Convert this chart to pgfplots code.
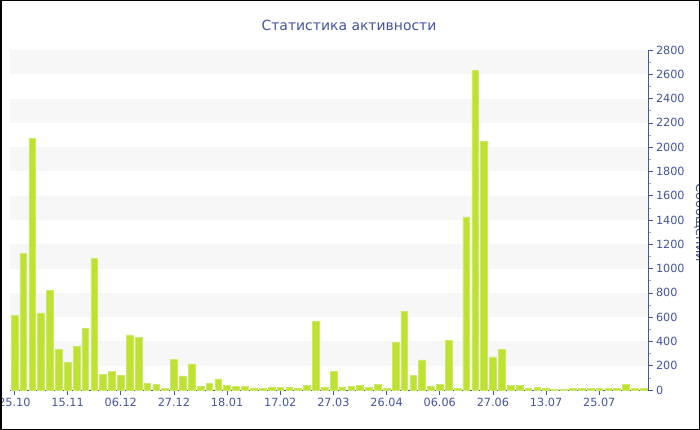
\documentclass[border=0pt]{standalone}
\usepackage{fontspec}
\setmainfont{DejaVu Sans}
\usepackage{pgfplots}
\pgfplotsset{compat=1.18}
\definecolor{barc}{RGB}{189,226,50}
\definecolor{axc}{RGB}{68,84,160}
\definecolor{band}{RGB}{247,247,247}
\begin{document}
\begin{tikzpicture}
\useasboundingbox (0,0) rectangle (700bp,430bp);
\fill[white] (0,0) rectangle (700bp,430bp);
\begin{scope}
\clip (0,0) rectangle (700bp,430bp);
\begin{axis}[
  at={(10bp,40bp)}, anchor=south west,
  scale only axis, width=638bp, height=340bp,
  xmin=-0.5, xmax=71.5, ymin=0, ymax=2800,
  axis x line*=bottom, axis y line*=right,
  axis line style={draw=axc, line width=0.8bp, -},
  ybar, bar width=0.76,
  xtick={0,6,...,66},
  xticklabels={25.10,15.11,06.12,27.12,18.01,17.02,27.03,26.04,06.06,27.06,13.07,25.07},
  ytick={0,200,...,2800},
  minor y tick num=1,
  tick align=outside,
  major tick length=5bp, minor tick length=3bp,
  tick style={draw=axc, line width=0.6bp},
  minor tick style={draw=gray!70, line width=0.6bp},
  /pgf/number format/assume math mode=true,
  /pgf/number format/1000 sep={},
  yticklabel style={font=\fontsize{11.3}{13}\selectfont, text=axc, xshift=-0.5bp},
  xticklabel style={font=\fontsize{11.3}{13}\selectfont, text=axc},
]
\fill[band] (axis cs:-0.5,200) rectangle (axis cs:71.5,400);
\fill[band] (axis cs:-0.5,600) rectangle (axis cs:71.5,800);
\fill[band] (axis cs:-0.5,1000) rectangle (axis cs:71.5,1200);
\fill[band] (axis cs:-0.5,1400) rectangle (axis cs:71.5,1600);
\fill[band] (axis cs:-0.5,1800) rectangle (axis cs:71.5,2000);
\fill[band] (axis cs:-0.5,2200) rectangle (axis cs:71.5,2400);
\fill[band] (axis cs:-0.5,2600) rectangle (axis cs:71.5,2800);
\addplot[fill=barc, draw=barc!75!white, line width=0.5bp] coordinates {
(0,615) (1,1127) (2,2075) (3,635) (4,822) (5,335) (6,230) (7,358) (8,508) (9,1084)
(10,129) (11,152) (12,120) (13,453) (14,435) (15,57) (16,48) (17,12) (18,253) (19,117)
(20,215) (21,30) (22,57) (23,91) (24,39) (25,30) (26,30) (27,14) (28,18) (29,25)
(30,20) (31,20) (32,14) (33,38) (34,563) (35,22) (36,156) (37,25) (38,30) (39,41)
(40,20) (41,49) (42,14) (43,390) (44,650) (45,118) (46,249) (47,33) (48,47) (49,406)
(50,15) (51,1425) (52,2630) (53,2050) (54,272) (55,336) (56,37) (57,40) (58,16) (59,22)
(60,11) (61,8) (62,10) (63,13) (64,13) (65,13) (66,11) (67,16) (68,16) (69,47)
(70,11) (71,11)
};
\end{axis}
\node[text=axc, font=\fontsize{14}{17}\selectfont] at (349bp,405bp) {Статистика активности};
\node[text=axc, font=\fontsize{13}{15}\selectfont, rotate=-90, anchor=base] at (696bp,207bp) {Сообщений};
\end{scope}
\draw[black, line width=1.5bp] (0.75bp,0.75bp) rectangle (699.25bp,429.25bp);
\end{tikzpicture}
\end{document}
